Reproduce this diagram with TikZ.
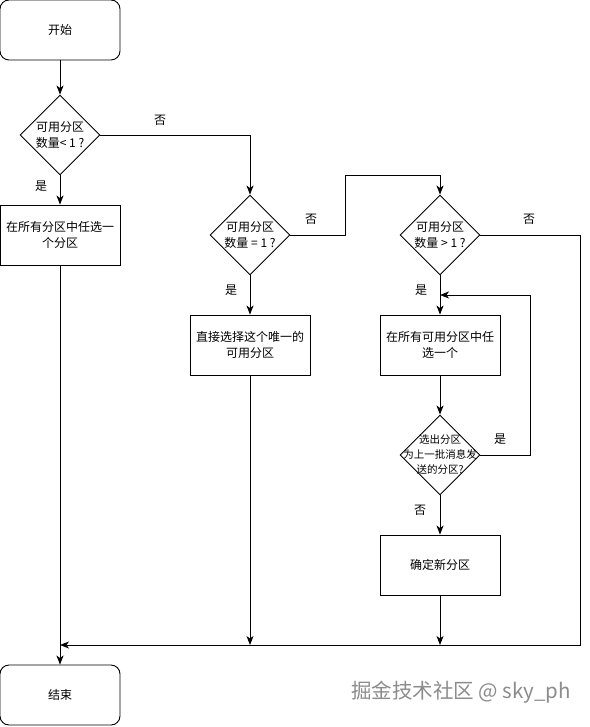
\documentclass[tikz,border=0pt]{standalone}
\usepackage{fontspec}
\setmainfont{Noto Sans CJK SC}
\usetikzlibrary{shapes.geometric,arrows.meta}
\begin{document}
\begin{tikzpicture}[x=1pt,y=-1pt,
  every node/.style={font=\fontsize{12}{16}\selectfont, align=center},
  term/.style={draw, rounded corners=9pt, minimum width=120pt, minimum height=60pt, inner sep=0pt, line width=0.9pt},
  proc/.style={draw, minimum width=120pt, minimum height=60pt, inner sep=0pt, line width=0.9pt},
  dia/.style={draw, diamond, minimum width=80pt, minimum height=80pt, inner sep=0pt, line width=0.9pt},
  lbl/.style={inner sep=0pt},
  arr/.style={draw, line width=0.9pt, -{Stealth[length=9pt,width=7pt,inset=2.5pt]}},
  lnk/.style={draw, line width=0.9pt}]
\useasboundingbox (0,0) rectangle (589,727);
\fill[white] (0,0) rectangle (589,727);

\node[term] (start) at (60,30) {开始};
\node[dia] (d1) at (60,135) {};
\node[lbl] at (d1) {可用分区\\数量< 1 ?};
\node[proc] (b1) at (60,235) {在所有分区中任选一\\个分区};

\node[dia] (d2) at (250,235) {};
\node[lbl] at (d2) {可用分区\\数量 = 1 ?};
\node[proc] (b2) at (250,345) {直接选择这个唯一的\\可用分区};

\node[dia] (d3) at (440,235) {};
\node[lbl] at (d3) {可用分区\\数量 > 1 ?};
\node[proc] (b3) at (440,345) {在所有可用分区中任\\选一个};

\node[dia] (d4) at (440,455) {};
\node[lbl, font=\fontsize{10.5}{15}\selectfont] at (d4) {选出分区\\为上一批消息发\\送的分区?};
\node[proc] (b4) at (440,565) {确定新分区};

\node[term] (end) at (60,695) {结束};

\coordinate (join) at (60,645);
\coordinate (loopin) at (440,295);
\coordinate (hop) at (345,175);

\draw[arr] (start) -- (d1);
\draw[arr] (d1) -- (b1);
\draw[arr] (d1.east) -| (d2.north);
\draw[arr] (d2.east) -| (hop) -| (d3.north);
\draw[arr] (d2) -- (b2);
\draw[arr] (d3) -- (b3);
\draw[arr] (b3) -- (d4);
\draw[arr] (d4.east) -- ++(50,0) |- (loopin);
\draw[arr] (d4) -- (b4);
\draw[arr] (d3.east) -| (580,645) -- (join);
\draw[arr] (b2) -- (b2 |- join);
\draw[arr] (b4) -- (b4 |- join);
\draw[arr] (b1) -- (end);

\node[lbl] at (41,186) {是};
\node[lbl] at (160,120) {否};
\node[lbl] at (231,290) {是};
\node[lbl] at (311,219) {否};
\node[lbl] at (421,290) {是};
\node[lbl] at (529,219) {否};
\node[lbl] at (500,439) {是};
\node[lbl] at (420,510) {否};

\node[lbl, text=black!45, font=\fontsize{20.5}{24}\selectfont] (wm) at (461,692) {掘金技术社区 @ sky\_ph};
\end{tikzpicture}
\end{document}
